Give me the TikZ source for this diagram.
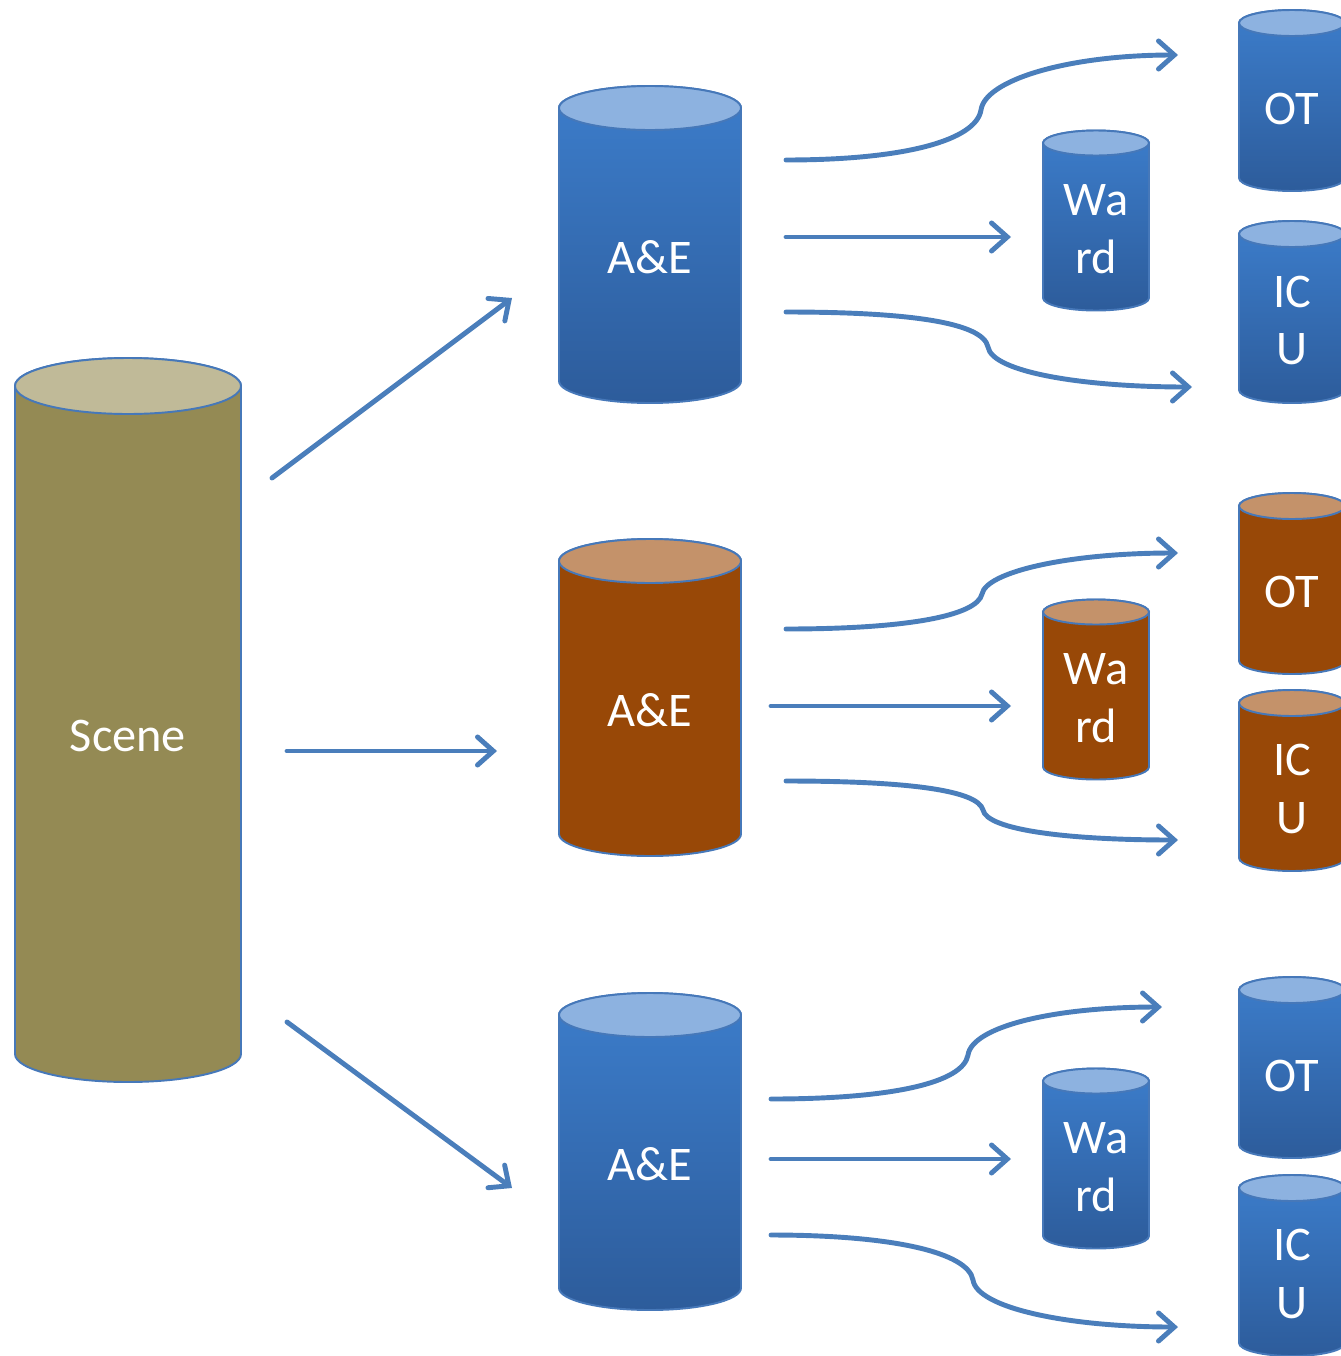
\documentclass[tikz,border=0pt]{standalone}
\usepackage{fontspec}
\setmainfont{Carlito}
\usetikzlibrary{arrows.meta}
\definecolor{flowblue}{RGB}{74,126,187}
\definecolor{drumedge}{RGB}{70,120,185}
\definecolor{bluehi}{RGB}{60,125,203}
\definecolor{bluelo}{RGB}{45,92,155}
\definecolor{bluecap}{RGB}{141,178,224}
\definecolor{rustbody}{RGB}{152,72,7}
\definecolor{rustcap}{RGB}{196,146,106}
\definecolor{olivebody}{RGB}{148,138,84}
\definecolor{olivecap}{RGB}{192,186,152}
\tikzset{
  blue body/.style={top color=bluehi,bottom color=bluelo,draw=drumedge,line width=1.1pt},
  blue top/.style={fill=bluecap,draw=drumedge,line width=1.1pt},
  rust body/.style={fill=rustbody,draw=drumedge,line width=1.1pt},
  rust top/.style={fill=rustcap,draw=drumedge,line width=1.1pt},
  olive body/.style={fill=olivebody,draw=drumedge,line width=1.1pt},
  olive top/.style={fill=olivecap,draw=drumedge,line width=1.1pt},
  drumtext/.style={text=white,font=\fontsize{27.5}{33}\selectfont,align=center,inner sep=0pt},
  flow/.style={draw=flowblue,line width=2.8pt,line cap=round,
    -{Straight Barb[length=9pt,width=16pt,line cap=round]}}
}
% #1 name, #2 centre x, #3 top y, #4 bottom y, #5 rx, #6 ry, #7 look, #8 text
\newcommand{\drum}[8]{%
  \path[#7 body] (#2-#5,-#3) -- (#2-#5,-#4) arc (180:360:#5 and #6)
    -- (#2+#5,-#3) arc (0:180:#5 and #6) -- cycle;
  \path[#7 top] (#2,-#3) ellipse (#5 and #6);
  \node[drumtext] (#1) at (#2,{-(#3+#4+#6)/2-2}) {#8};
}

\begin{document}
\begin{tikzpicture}[x=0.02cm,y=0.02cm]
\useasboundingbox (0,0) rectangle (1341,-1356);
%\draw[help lines,step=100] (0,-1356) grid (1341,0);

% cylinders
\drum{scene}{128}{386}{1054}{113}{28}{olive}{Scene}
\drum{aeT}{650}{108}{381}{91}{22}{blue}{A\&E}
\drum{aeM}{650}{561}{834}{91}{22}{rust}{A\&E}
\drum{aeB}{650}{1015}{1288}{91}{22}{blue}{A\&E}
\drum{wardT}{1096}{143}{298}{53}{12.5}{blue}{Wa\\rd}
\drum{wardM}{1096}{612}{767}{53}{12.5}{rust}{Wa\\rd}
\drum{wardB}{1096}{1081}{1236}{53}{12.5}{blue}{Wa\\rd}
\drum{otT}{1292}{23}{178}{53}{13}{blue}{OT}
\drum{icuT}{1292}{234}{390}{53}{13}{blue}{IC\\U}
\drum{otM}{1292}{506}{661}{53}{13}{rust}{OT}
\drum{icuM}{1292}{703}{858}{53}{13}{rust}{IC\\U}
\drum{otB}{1292}{990}{1145}{53}{13}{blue}{OT}
\drum{icuB}{1292}{1188}{1343}{53}{13}{blue}{IC\\U}

% scene to A&E
\coordinate (s1) at (272,-478);  \coordinate (a1) at (512,-298);
\coordinate (s2) at (287,-751);  \coordinate (a2) at (497,-751);
\coordinate (s3) at (287,-1022); \coordinate (a3) at (512,-1188);
\draw[flow] (s1) -- (a1);
\draw[flow] (s2) -- (a2);
\draw[flow] (s3) -- (a3);

% top group
\coordinate (u1s) at (786,-160); \coordinate (u1m) at (981,-110); \coordinate (u1e) at (1178,-55);
\coordinate (w1s) at (786,-237); \coordinate (w1e) at (1011,-237);
\coordinate (d1s) at (786,-312); \coordinate (d1m) at (988,-347); \coordinate (d1e) at (1192,-387);
\draw[flow] (u1s) .. controls +(120,0) and +(-5,-30) .. (u1m) .. controls +(4,30) and +(-110,0) .. (u1e);
\draw[flow] (w1s) -- (w1e);
\draw[flow] (d1s) .. controls +(120,0) and +(-5,25) .. (d1m) .. controls +(4,-25) and +(-110,0) .. (d1e);

% middle group
\coordinate (u2s) at (786,-629); \coordinate (u2m) at (982,-594); \coordinate (u2e) at (1178,-553);
\coordinate (w2s) at (771,-706); \coordinate (w2e) at (1011,-706);
\coordinate (d2s) at (786,-781); \coordinate (d2m) at (983,-810); \coordinate (d2e) at (1178,-840);
\draw[flow] (u2s) .. controls +(120,0) and +(-5,-22) .. (u2m) .. controls +(4,22) and +(-110,0) .. (u2e);
\draw[flow] (w2s) -- (w2e);
\draw[flow] (d2s) .. controls +(120,0) and +(-5,20) .. (d2m) .. controls +(4,-20) and +(-110,0) .. (d2e);

% bottom group
\coordinate (u3s) at (771,-1099); \coordinate (u3m) at (968,-1055); \coordinate (u3e) at (1162,-1007);
\coordinate (w3s) at (771,-1159); \coordinate (w3e) at (1011,-1159);
\coordinate (d3s) at (771,-1235); \coordinate (d3m) at (973,-1280); \coordinate (d3e) at (1178,-1327);
\draw[flow] (u3s) .. controls +(120,0) and +(-5,-28) .. (u3m) .. controls +(4,28) and +(-110,0) .. (u3e);
\draw[flow] (w3s) -- (w3e);
\draw[flow] (d3s) .. controls +(120,0) and +(-5,28) .. (d3m) .. controls +(4,-28) and +(-110,0) .. (d3e);
\end{tikzpicture}
\end{document}
